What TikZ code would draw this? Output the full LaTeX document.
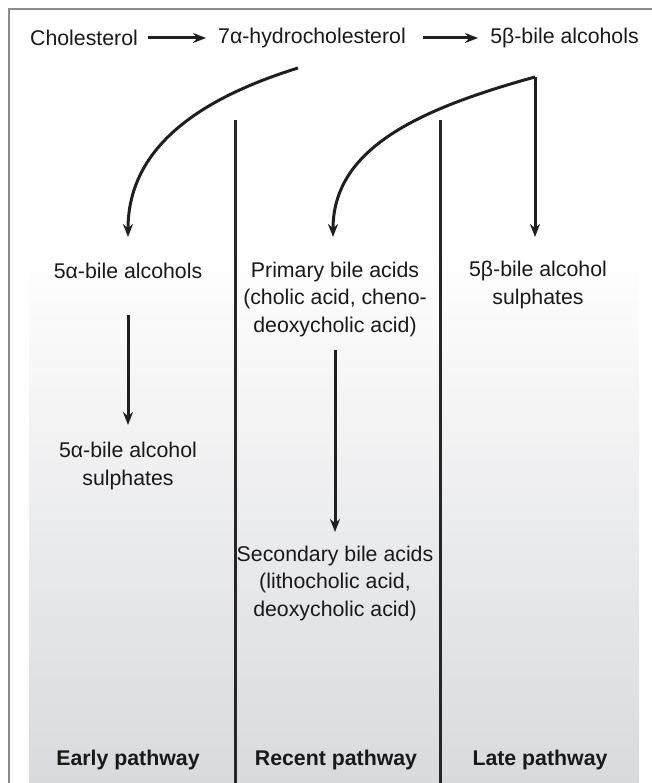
\documentclass[tikz,border=0pt]{standalone}
\usepackage{fontspec}
\setmainfont{Liberation Sans}
\usetikzlibrary{arrows.meta}
\definecolor{framegray}{RGB}{140,140,140}
\definecolor{shadegray}{RGB}{217,218,221}
\begin{document}
\begin{tikzpicture}[x=1pt,y=-1pt,
  lbl/.style={font=\fontsize{21.3}{27.5}\selectfont, align=center, inner sep=0pt, text=black!90},
  bold/.style={lbl, font=\fontsize{21.3}{27.5}\selectfont\bfseries},
  arr/.style={line width=3pt, black!88, -{Stealth[length=13pt,width=10pt]}},
  divider/.style={line width=3pt, black!85}]
\useasboundingbox (0,0) rectangle (652,783);
% frame
\draw[framegray, line width=1.3pt] (9,800) -- (9,9) -- (670,9);
% gradient background
\shade[top color=white, bottom color=shadegray] (29,250) rectangle (639,783);
% top row
\node[lbl] (chol) at (84,38) {Cholesterol};
\node[lbl] (hydro) at (312,38) {7α-hydrocholesterol};
\node[lbl] (b5) at (564.5,38) {5β-bile alcohols};
\coordinate (c1) at (148,38);
\coordinate (c2) at (206,38);
\coordinate (c3) at (423,38);
\coordinate (c4) at (478,38);
\draw[arr] (c1) -- (c2);
\draw[arr] (c3) -- (c4);
% dividers
\draw[divider] (235,120) coordinate (d1t) -- (235,783) coordinate (d1b);
\draw[divider] (440,120) coordinate (d2t) -- (440,783) coordinate (d2b);
% middle row
\node[lbl] (a5alc) at (128,271) {5α-bile alcohols};
\node[lbl] (prim) at (335,299) {Primary bile acids\\(cholic acid, cheno-\\deoxycholic acid)};
\node[lbl] (b5sul) at (538,285) {5β-bile alcohol\\sulphates};
\node[lbl] (a5sul) at (128,466) {5α-bile alcohol\\sulphates};
\node[lbl] (sec) at (335,583) {Secondary bile acids\\(lithocholic acid,\\deoxycholic acid)};
% bottom labels
\node[bold] (early) at (128,760) {Early pathway};
\node[bold] (recent) at (336,760) {Recent pathway};
\node[bold] (late) at (540,760) {Late pathway};
% curved connectors
\coordinate (hs) at (298,68);
\coordinate (split) at (535,77);
\coordinate (t1) at (128,237);
\coordinate (t2) at (333,237);
\coordinate (t3) at (535,237);
\draw[arr] (hs) .. controls (195,100) and (128,150) .. (t1);
\draw[arr] (split) .. controls (415,110) and (333,150) .. (t2);
\draw[arr] (split) -- (t3);
% vertical arrows
\coordinate (v1s) at (128,315);
\coordinate (v1e) at (128,425);
\coordinate (v2s) at (335,350);
\coordinate (v2e) at (335,532);
\draw[arr] (v1s) -- (v1e);
\draw[arr] (v2s) -- (v2e);
\end{tikzpicture}
\end{document}
